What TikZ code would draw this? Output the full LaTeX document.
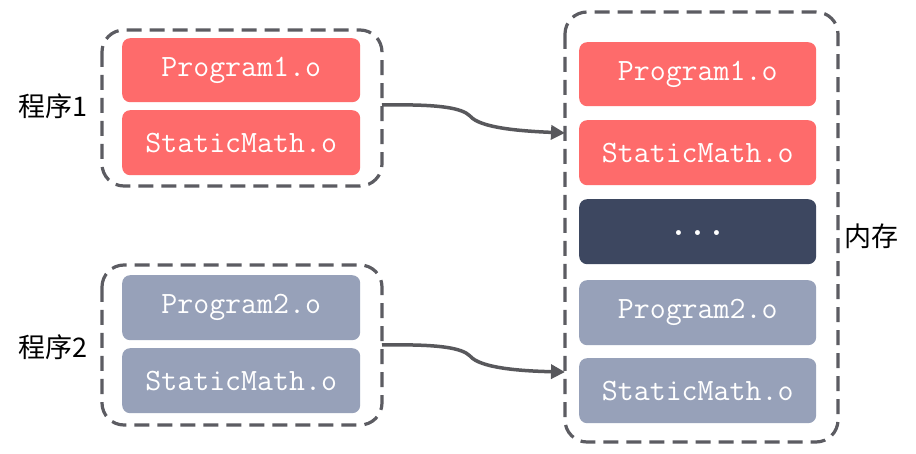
\documentclass[tikz,border=0pt]{standalone}
\usepackage{fontspec}
\newfontfamily\cjk{Noto Sans CJK SC}
\usetikzlibrary{arrows.meta}
\definecolor{redbox}{HTML}{FE6B6B}
\definecolor{graybox}{HTML}{97A1B9}
\definecolor{darkbox}{HTML}{3D4760}
\definecolor{dashcol}{HTML}{5C5C62}
\definecolor{arrcol}{HTML}{58585C}
\begin{document}
\begin{tikzpicture}[x=1pt,y=-1pt,
  objbox/.style={rounded corners=8pt, inner sep=0pt, anchor=north west, font=\ttfamily\fontsize{31}{31}\selectfont, text=white},
  redobj/.style={objbox, fill=redbox},
  grayobj/.style={objbox, fill=graybox},
  darkobj/.style={objbox, fill=darkbox},
  grp/.style={draw=dashcol, line width=3.2pt, dash pattern=on 15pt off 8pt, rounded corners=22pt},
  lbl/.style={font=\cjk\fontsize{27}{27}\selectfont, text=black, inner sep=0pt},
  link/.style={draw=arrcol, line width=3.5pt, -{Triangle[length=14pt,width=14pt]}}]
\useasboundingbox[fill=white] (0,0) rectangle (916,454);
% groups
\draw[grp] (102,30) rectangle (382,186);
\draw[grp] (102,265) rectangle (382,425);
\draw[grp] (565,12) rectangle (838,442);
\coordinate (g1) at (382,105);
\coordinate (g2) at (382,345);
\coordinate (m1) at (565,133);
\coordinate (m2) at (565,372);
% left objects
\node[redobj, minimum width=238pt, minimum height=64pt] (p1) at (122,38) {Program1.o};
\node[redobj, minimum width=238pt, minimum height=65pt] (s1) at (122,110) {StaticMath.o};
\node[grayobj, minimum width=238pt, minimum height=65pt] (p2) at (122,275) {Program2.o};
\node[grayobj, minimum width=238pt, minimum height=65pt] (s2) at (122,348) {StaticMath.o};
% memory
\node[redobj, minimum width=237pt, minimum height=64pt] (mp1) at (579,42) {Program1.o};
\node[redobj, minimum width=237pt, minimum height=65pt] (ms1) at (579,120) {StaticMath.o};
\node[darkobj, minimum width=237pt, minimum height=65pt] (dots) at (579,199) {\raisebox{-7pt}{\fontsize{36}{36}\selectfont\bfseries ...}};
\node[grayobj, minimum width=237pt, minimum height=65pt] (mp2) at (579,280) {Program2.o};
\node[grayobj, minimum width=237pt, minimum height=65pt] (ms2) at (579,358) {StaticMath.o};
% labels
\node[lbl] (l1) at (53,106) {程序1};
\node[lbl] (l2) at (53,347) {程序2};
\node[lbl] (mem) at (871,236) {内存};
% arrows
\draw[link] (g1) .. controls (440,104) and (462,108) .. (470,116) .. controls (480,128) and (520,131) .. (m1);
\draw[link] (g2) .. controls (440,344) and (462,348) .. (470,356) .. controls (480,368) and (520,371) .. (m2);
\end{tikzpicture}
\end{document}
